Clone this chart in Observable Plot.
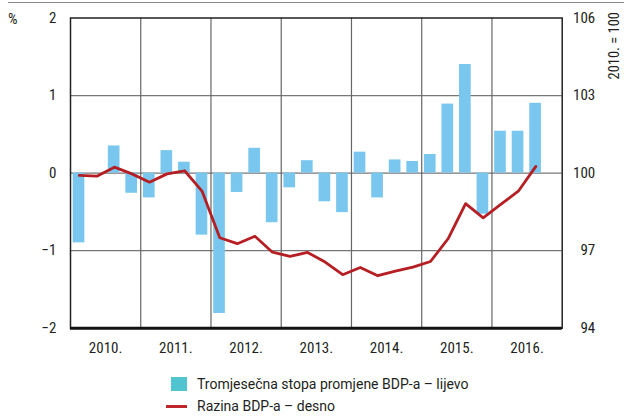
<!DOCTYPE html>
<html><head><meta charset="utf-8">
<script src="https://cdn.jsdelivr.net/npm/d3@7"></script>
<script src="https://cdn.jsdelivr.net/npm/@observablehq/plot@0.6"></script>
<style>
body{margin:0;background:#fff;font-family:"Liberation Sans Narrow","Roboto Condensed","DejaVu Sans Condensed",sans-serif;color:#231f20;}
#wrap{position:relative;width:624px;height:416px;overflow:hidden;}
#chart{position:absolute;left:0;top:0;}
#topline{position:absolute;top:2px;left:8px;right:0;border-top:1.3px solid #8a8a8a;}
#pct{position:absolute;left:8px;top:10px;font-size:15px;line-height:18px;}
#base{position:absolute;left:607px;top:12px;font-size:14.5px;line-height:16px;writing-mode:vertical-rl;transform:rotate(180deg);white-space:nowrap;}
.lg{position:absolute;left:197px;font-family:Roboto,"Liberation Sans",sans-serif;font-size:14px;line-height:18px;white-space:nowrap;}
.sw{position:absolute;}
</style></head><body>
<div id="wrap">
  <div id="chart"></div>
  <div id="topline"></div>
  <div id="pct">%</div>
  <div id="base">2010. = 100</div>
  <div class="sw" style="left:171px;top:377px;width:16px;height:14px;background:#50c4cf"></div>
  <div class="lg" style="top:375px">Tromjesečna stopa promjene BDP-a – lijevo</div>
  <div class="sw" style="left:166px;top:405px;width:21px;height:2.5px;background:#c0272d"></div>
  <div class="lg" style="top:397px">Razina BDP-a – desno</div>
</div>
<script>
const years = [2010, 2011, 2012, 2013, 2014, 2015, 2016];
// quarterly growth rate (%), 2010 Q1 – 2016 Q3
const growth = [
  -0.90, 0.00, 0.35, -0.26,
  -0.32, 0.29, 0.14, -0.80,
  -1.81, -0.25, 0.32, -0.64,
  -0.19, 0.16, -0.37, -0.51,
  0.27, -0.32, 0.17, 0.15,
  0.24, 0.89, 1.40, -0.53,
  0.54, 0.54, 0.90
];
// GDP level index, 2010 = 100
const level = [
  99.91, 99.88, 100.23, 99.97,
  99.65, 99.97, 100.09, 99.29,
  97.50, 97.27, 97.56, 96.94,
  96.78, 96.93, 96.56, 96.07,
  96.35, 96.03, 96.21, 96.36,
  96.58, 97.46, 98.82, 98.27,
  98.79, 99.30, 100.26
];
const leftTicks = [-2, -1, 0, 1, 2];
const rightTicks = [94, 97, 100, 103, 106];

const data = growth.map((g, i) => ({
  x1: years[0] + i / 4,
  x2: years[0] + (i + 1) / 4,
  xm: years[0] + i / 4 + 0.125,
  g,
  level: level[i]
}));
// right-axis value -> left-axis position (100 ↔ 0, 3 units ↔ 1)
const toLeft = v => (v - 100) / 3;
const fmtLeft = d => (d < 0 ? "\u2212" + Math.abs(d) : String(d));

const chart = Plot.plot({
  width: 624,
  height: 366,
  marginLeft: 70,
  marginRight: 62.3,
  marginTop: 17.5,
  marginBottom: 38.3,
  x: {domain: [years[0], years[years.length - 1] + 1]},
  y: {domain: [-2, 2]},
  style: {fontFamily: '"Liberation Sans Narrow","Roboto Condensed","DejaVu Sans Condensed",sans-serif', fontSize: "15px", color: "#231f20", background: "transparent"},
  marks: [
    Plot.ruleY([-1, 0, 1], {stroke: "#777", strokeWidth: 1.2}),
    Plot.ruleX(years.slice(1), {stroke: "#666", strokeWidth: 1.2}),
    Plot.rectY(data, {x1: "x1", x2: "x2", y: "g", fill: "#79c7ef", insetLeft: 2.7, insetRight: 3.2}),
    Plot.line(data, {x: "xm", y: d => toLeft(d.level), stroke: "#b51f24", strokeWidth: 2.8}),
    Plot.frame({stroke: "#222", strokeWidth: 1.5}),
    Plot.ruleY([-2], {stroke: "#111", strokeWidth: 3}),
    Plot.axisY(leftTicks, {anchor: "left", tickSize: 0, tickPadding: 14, label: null, fill: "#231f20", tickFormat: fmtLeft}),
    Plot.axisY(leftTicks, {anchor: "right", tickSize: 0, tickPadding: 33, textAnchor: "end", label: null, fill: "#231f20",
      tickFormat: d => String(rightTicks[leftTicks.indexOf(d)])}),
    Plot.axisX(years.map(y => y + 0.5), {tickSize: 0, tickPadding: 14, label: null, fill: "#231f20",
      tickFormat: d => `${Math.floor(d)}.`})
  ]
});
document.getElementById("chart").appendChild(chart);
</script>
</body></html>
